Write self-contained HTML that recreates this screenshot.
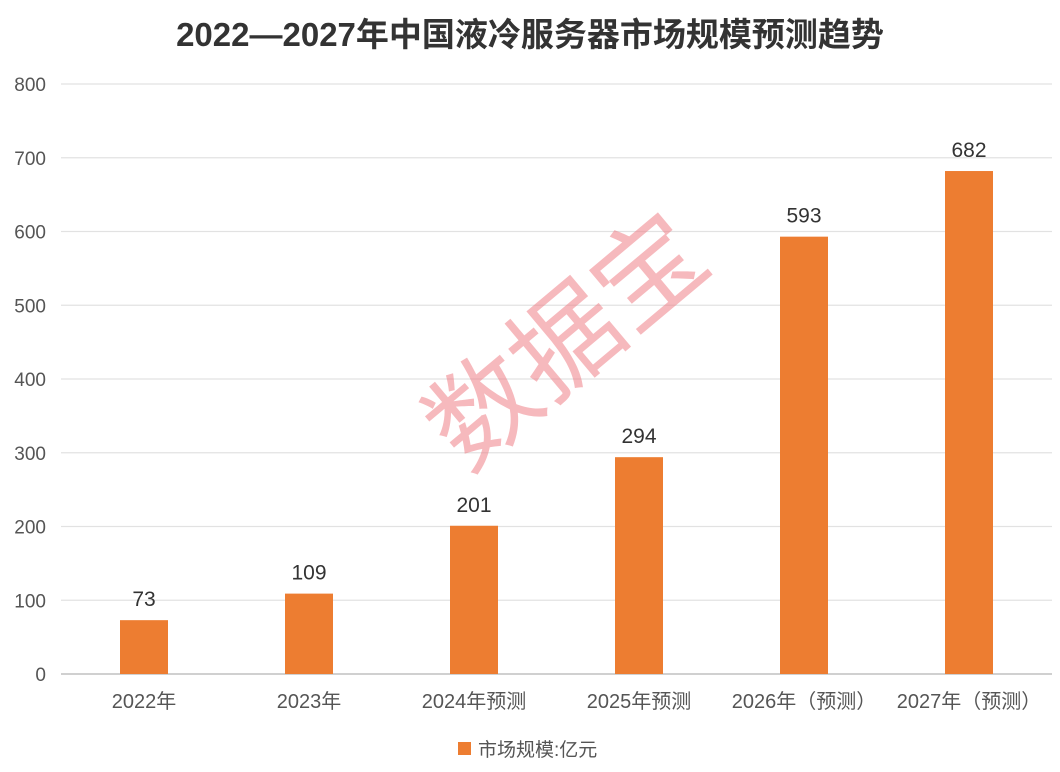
<!DOCTYPE html>
<html><head><meta charset="utf-8"><style>
body{margin:0;background:#fff;}
svg{display:block;font-family:"Liberation Sans","Noto Sans CJK SC",sans-serif;}
</style></head><body>
<svg id="c" width="1060" height="772">
<text x="530" y="46" text-anchor="middle" font-size="33" font-weight="bold" fill="#333">2022—2027年中国液冷服务器市场规模预测趋势</text>
<g id="grid"></g><g id="bars"></g><g id="labels"></g>
<text x="572" y="348" text-anchor="middle" dominant-baseline="middle" font-size="108" fill="#f08088" opacity="0.55" transform="rotate(-40 572 348)">数据宝</text>
<rect x="458" y="742" width="13" height="13" fill="#ED7D31"/>
<text x="478" y="756" font-size="19" fill="#555">市场规模:亿元</text>
</svg>
<script>
const categories=["2022年","2023年","2024年预测","2025年预测","2026年（预测）","2027年（预测）"];
const values=[73,109,201,294,593,682];
const ticks=[0,100,200,300,400,500,600,700,800];
const NS="http://www.w3.org/2000/svg";
const x0=61.5,bw=165,y0=674,yMax=800,yTop=84;
const y=v=>y0-(v/yMax)*(y0-yTop);
const xc=i=>x0+bw*(i+0.5);
function mk(t,a,p){const e=document.createElementNS(NS,t);for(const k in a)e.setAttribute(k,a[k]);p.appendChild(e);return e;}
const g=document.getElementById('grid'),b=document.getElementById('bars'),l=document.getElementById('labels');
ticks.forEach(t=>{
 const ln=mk('line',{x1:61,x2:1052,y1:y(t),y2:y(t),stroke:t===0?'#d0d0d0':'#e2e2e2','stroke-width':t===0?2:1.3},g);
 
 
 const tx=mk('text',{x:46,y:y(t)+7,'text-anchor':'end','font-size':19,fill:'#555'},g);
 tx.textContent=t;
 
 
});
categories.forEach((c,i)=>{
 const r=mk('rect',{x:xc(i)-24,y:y(values[i]),width:48,height:y0-y(values[i]),fill:'#ED7D31'},b);
 
 
 const v=mk('text',{x:xc(i),y:y(values[i])-14,'text-anchor':'middle','font-size':21,fill:'#333'},l);
 v.textContent=values[i];
 
 
 const xl=mk('text',{x:xc(i),y:708,'text-anchor':'middle','font-size':20,fill:'#555'},l);
 xl.textContent=c;
 
 
});
</script>
</body></html>
